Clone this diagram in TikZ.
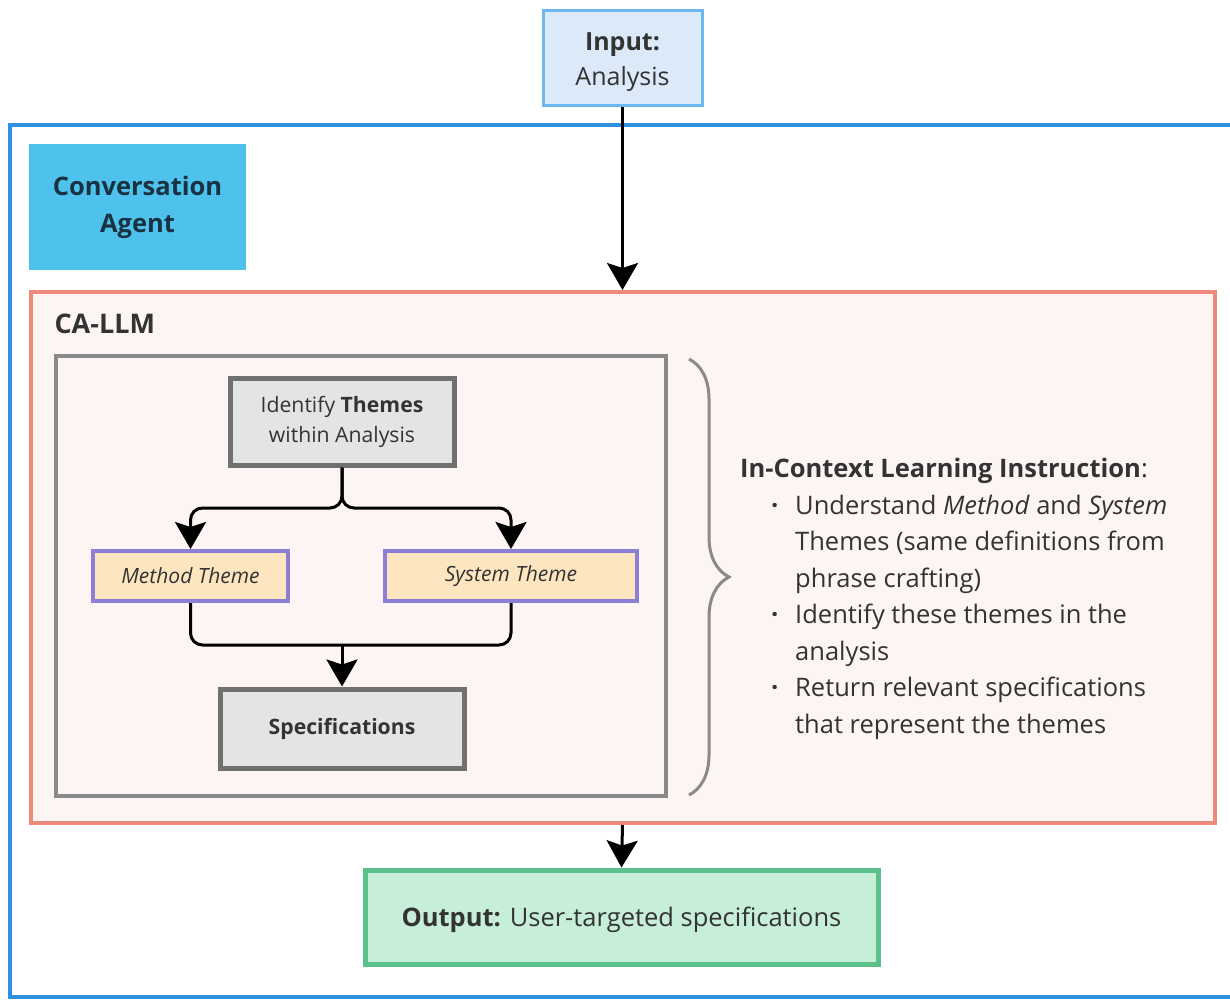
\documentclass[tikz,border=0pt]{standalone}
\usepackage{fontspec}
\setmainfont{Open Sans}
\usepackage{tikz}
\usetikzlibrary{positioning, arrows.meta, decorations.pathreplacing}
\definecolor{textColor}{RGB}{51,51,51}
\definecolor{agentBlue}{RGB}{47,143,224}
\definecolor{inputFill}{RGB}{219,233,248}
\definecolor{inputLine}{RGB}{108,184,240}
\definecolor{agentFill}{RGB}{78,194,236}
\definecolor{agentText}{RGB}{25,50,65}
\definecolor{llmLine}{RGB}{238,138,124}
\definecolor{llmFill}{RGB}{252,245,243}
\definecolor{frameLine}{RGB}{138,138,138}
\definecolor{stepFill}{RGB}{228,228,228}
\definecolor{stepLine}{RGB}{112,112,112}
\definecolor{themeFill}{RGB}{253,229,191}
\definecolor{themeLine}{RGB}{142,127,214}
\definecolor{outputFill}{RGB}{198,238,217}
\definecolor{outputLine}{RGB}{92,192,138}
\tikzstyle{canvas} = [x = 1pt, y = -1pt]
\tikzstyle{boxStyle} = [draw, rectangle, align = center, text = textColor, inner sep = 0pt]
\tikzstyle{inputStyle} = [boxStyle, fill = inputFill, draw = inputLine, line width = 3pt, minimum width = 159pt, minimum height = 95pt, font = \fontsize{25}{35}\selectfont]
\tikzstyle{agentStyle} = [boxStyle, fill = agentFill, draw = none, text = agentText, minimum width = 217pt, minimum height = 126pt, font = \fontsize{25.5}{37}\selectfont\bfseries]
\tikzstyle{llmStyle} = [boxStyle, fill = llmFill, draw = llmLine, line width = 4pt]
\tikzstyle{frameStyle} = [boxStyle, fill = llmFill, draw = frameLine, line width = 4pt]
\tikzstyle{stepStyle} = [boxStyle, fill = stepFill, draw = stepLine, line width = 5pt, font = \fontsize{21.2}{30}\selectfont]
\tikzstyle{themeStyle} = [boxStyle, fill = themeFill, draw = themeLine, line width = 4pt, minimum height = 50pt, font = \fontsize{21}{30}\selectfont\itshape]
\tikzstyle{outputStyle} = [boxStyle, fill = outputFill, draw = outputLine, line width = 5pt, minimum width = 513pt, minimum height = 94pt, font = \fontsize{25.5}{30}\selectfont]
\tikzstyle{flowArrow} = [line width = 3pt, color = black, -{Stealth[length = 27pt, width = 31pt, inset = 5pt]}]
\tikzstyle{flowLine} = [line width = 3pt, color = black, rounded corners = 12pt]
\tikzstyle{braceStyle} = [draw = frameLine, line width = 3pt, decorate, decoration = {brace, amplitude = 40pt, aspect = 0.5}]
\tikzstyle{instructionText} = [anchor = north west, align = left, text = textColor, inner sep = 0pt, font = \fontsize{25.5}{36.5}\selectfont]
\newcommand{\bulletLine}[1]{\hspace*{31pt}\makebox[24pt][l]{\textbf{·}}#1}
\newcommand{\moreLine}[1]{\hspace*{55pt}#1}

\begin{document}
\begin{tikzpicture}[canvas]
  \useasboundingbox (0,0) rectangle (1230,1000);
  \fill [white] (0,0) rectangle (1230,1000);
  \draw [color = agentBlue, line width = 4pt] (10,125) rectangle (1245,997);
  \node [agentStyle] (agent) at (137.5,207) {Conversation\\Agent};
  \node [llmStyle, minimum width = 1184pt, minimum height = 531pt] (callm) at (623,557.5) {};
  \node [anchor = west, text = textColor, font = \fontsize{27}{28}\selectfont\bfseries] (callmLabel) at (51,324) {CA-LLM};
  \node [frameStyle, minimum width = 610pt, minimum height = 440pt] (frame) at (361,576) {};
  \node [inputStyle] (input) at (622.5,58.5) {};
  \node [text = textColor, align = center, inner sep = 0pt, font = \fontsize{25}{35}\selectfont] (inputText) at (622.5,62) {\textbf{Input:}\\Analysis};

  \node [stepStyle, minimum width = 224pt, minimum height = 87pt] (identify) at (342,421.5) {Identify \textbf{Themes}\\within Analysis};
  \node [themeStyle, minimum width = 195pt] (method) at (190.5,576) {Method Theme};
  \node [themeStyle, minimum width = 252pt] (system) at (511,576) {System Theme};
  \node [stepStyle, minimum width = 244pt, minimum height = 79pt, font = \fontsize{21.2}{30}\selectfont\bfseries] (specs) at (342,728.5) {Specifications};
  \coordinate (fork) at (342,508);
  \coordinate (merge) at (342,645);

  \draw [flowArrow] (input.south) -- (input.south |- callm.north);
  \draw [flowArrow, rounded corners = 12pt] (identify.south) -- (fork) -| (method.north);
  \draw [flowArrow, rounded corners = 12pt] (identify.south) -- (fork) -| (system.north);
  \draw [flowLine] (method.south) |- (merge);
  \draw [flowLine] (system.south) |- (merge);
  \draw [flowArrow] (merge) -- (specs.north);

  \coordinate (braceTop) at (689,359);
  \coordinate (braceBottom) at (689,795);
  \draw [braceStyle] (braceTop) -- (braceBottom);
  \node [instructionText] (instruction) at (740,458) {\textbf{In-Context Learning Instruction}:\\
    \bulletLine{Understand \textit{Method} and \textit{System}}\\
    \moreLine{Themes (same definitions from}\\
    \moreLine{phrase crafting)}\\
    \bulletLine{Identify these themes in the}\\
    \moreLine{analysis}\\
    \bulletLine{Return relevant specifications}\\
    \moreLine{that represent the themes}};

  \node [outputStyle] (output) at (621.5,917) {};
  \node [text = textColor, inner sep = 0pt, font = \fontsize{25.5}{30}\selectfont] (outputText) at (621.5,920) {\textbf{Output:} User-targeted specifications};
  \draw [flowArrow] (callm.south -| input.south) -- (output.north);
\end{tikzpicture}
\end{document}
